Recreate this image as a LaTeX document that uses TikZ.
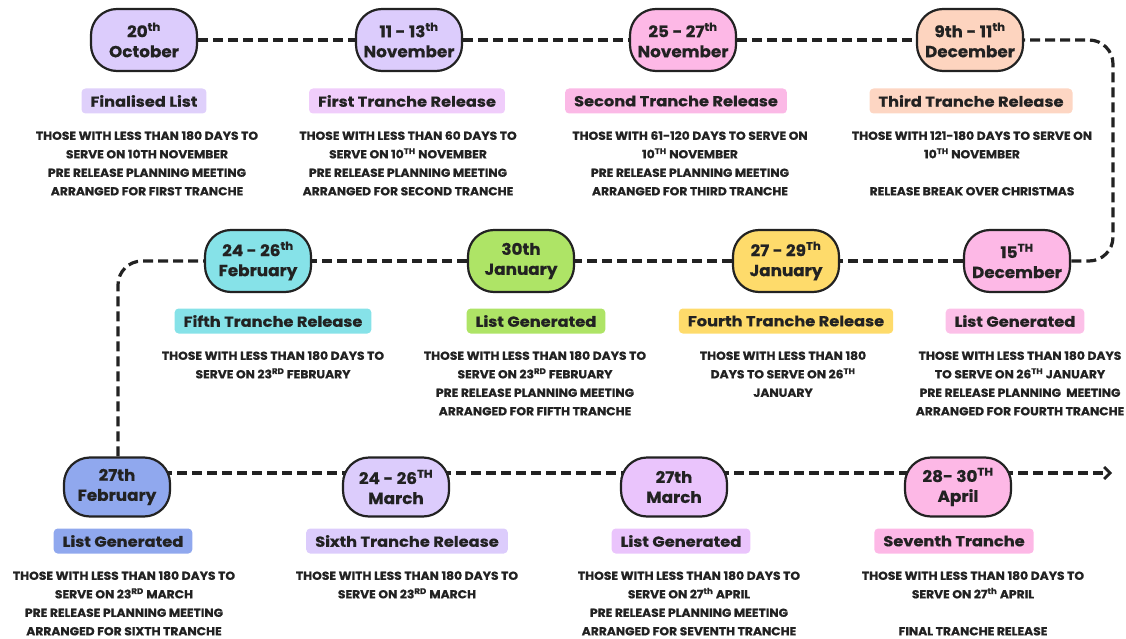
\documentclass[tikz,border=0pt]{standalone}
\usepackage{fontspec}
\setmainfont{Poppins}[FakeStretch=1.06, FakeBold=0.9]
\newfontfamily\headfont{Poppins}[FakeStretch=1.12, FakeBold=0.5]
\newfontfamily\datefont{Poppins}[FakeStretch=1.05, FakeBold=0.5]
\usetikzlibrary{arrows.meta,backgrounds}
\definecolor{ink}{HTML}{222222}
\definecolor{lav}{HTML}{DCCCFC}
\definecolor{pinkA}{HTML}{FDB8E6}
\definecolor{peach}{HTML}{FDD4BF}
\definecolor{yel}{HTML}{FEDB6B}
\definecolor{grn}{HTML}{AEE466}
\definecolor{cyan2}{HTML}{86E2E8}
\definecolor{blu}{HTML}{90A8EE}
\definecolor{purp}{HTML}{EAC4FC}
\definecolor{tagA}{HTML}{DFD0FB}
\definecolor{tagB}{HTML}{F0CDFB}
\definecolor{tagC}{HTML}{FBB9E6}
\definecolor{tagD}{HTML}{FDD6C3}
\definecolor{tagE}{HTML}{FCC0E8}
\tikzset{
  pill/.style={draw=ink, line width=2.2pt, rounded corners=26pt, minimum width=106pt,
    minimum height=62pt, align=center, inner sep=0pt, text=ink,
    font=\datefont\fontsize{16}{20}\selectfont\bfseries},
  tag/.style={rounded corners=4pt, minimum height=25pt, inner xsep=9pt, inner ysep=0pt,
    text=ink, font=\headfont\fontsize{14.5}{16}\selectfont\bfseries},
  body/.style={align=center, anchor=north, inner sep=0pt, text=ink,
    font=\fontsize{11.6}{18.5}\selectfont\bfseries},
  conn/.style={draw=ink, line width=3.2pt, dash pattern=on 10pt off 5pt},
}
\newcommand{\sps}[1]{\textsuperscript{#1}}
\begin{document}
\begin{tikzpicture}[x=1pt,y=-1pt]
\useasboundingbox (0,0) rectangle (1126,639);
% top row
\node[pill, fill=lav]   (p1) at (144,40) {20\sps{th}\\October};
\node[pill, fill=lav]   (p2) at (409,40) {11 - 13\sps{th}\\November};
\node[pill, fill=pinkA] (p3) at (683,40) {25 - 27\sps{th}\\November};
\node[pill, fill=peach] (p4) at (970,40) {9th - 11\sps{th}\\December};
% middle row
\node[pill, fill=pinkA] (m1) at (1017,261) {15\sps{TH}\\December};
\node[pill, fill=yel]   (m2) at (786,261) {27 - 29\sps{Th}\\January};
\node[pill, fill=grn]   (m3) at (521,261) {30th\\January};
\node[pill, fill=cyan2] (m4) at (258,261) {24 - 26\sps{th}\\February};
% bottom row
\node[pill, fill=blu, minimum height=59pt]  (b1) at (117,487) {27th\\February};
\node[pill, fill=lav, minimum height=59pt]  (b2) at (396,487) {24 - 26\sps{TH}\\March};
\node[pill, fill=purp, minimum height=59pt] (b3) at (674,487) {27th\\March};
\node[pill, fill=pinkA, minimum height=59pt](b4) at (958,487) {28- 30\sps{TH}\\April};
\coordinate (rc) at (1113,0);
\coordinate (lc) at (118,0);
\coordinate (tip) at (1112,473);
\begin{scope}[on background layer]
\draw[conn] (p1) -- (p2);
\draw[conn] (p2) -- (p3);
\draw[conn] (p3) -- (p4);
\draw[conn, rounded corners=24pt] (p4.center) -| (rc |- m1.center) -- (m1.center);
\draw[conn] (m1) -- (m2);
\draw[conn] (m2) -- (m3);
\draw[conn] (m3) -- (m4);
\draw[conn, rounded corners=24pt] (m4.center) -| (lc |- b1.center);
\draw[conn] ([yshift=14pt]b1.center) -- ([yshift=14pt]b2.center);
\draw[conn] ([yshift=14pt]b2.center) -- ([yshift=14pt]b3.center);
\draw[conn] ([yshift=14pt]b3.center) -- ([yshift=14pt]b4.center);
\draw[conn, -{Straight Barb[length=6pt,width=12pt,line width=2.8pt]}] ([yshift=14pt]b4.center) -- (tip);
\end{scope}
% tags
\node[tag, fill=tagA]  (t1) at (144,101) {Finalised List};
\node[tag, fill=tagB]  (t2) at (407,101) {First Tranche Release};
\node[tag, fill=tagC]  (t3) at (676,101) {Second Tranche Release};
\node[tag, fill=tagD]  (t4) at (971,101) {Third Tranche Release};
\node[tag, fill=tagE]  (t5) at (1015,321) {List Generated};
\node[tag, fill=yel]   (t6) at (786,321) {Fourth Tranche Release};
\node[tag, fill=grn]   (t7) at (536,321) {List Generated};
\node[tag, fill=cyan2] (t8) at (273,321) {Fifth Tranche Release};
\node[tag, fill=blu]   (t9) at (123,541) {List Generated};
\node[tag, fill=lav]   (t10) at (407,541) {Sixth Tranche Release};
\node[tag, fill=purp]  (t11) at (681,541) {List Generated};
\node[tag, fill=pinkA] (t12) at (954,541) {Seventh Tranche};
% body texts
\node[body] (d1) at (147,131) {THOSE WITH LESS THAN 180 DAYS TO\\SERVE ON 10TH NOVEMBER\\PRE RELEASE PLANNING MEETING\\ARRANGED FOR FIRST TRANCHE};
\node[body] (d2) at (408,131) {THOSE WITH LESS THAN 60 DAYS TO\\SERVE ON 10\sps{TH} NOVEMBER\\PRE RELEASE PLANNING MEETING\\ARRANGED FOR SECOND TRANCHE};
\node[body] (d3) at (690,131) {THOSE WITH 61-120 DAYS TO SERVE ON\\10\sps{TH} NOVEMBER\\PRE RELEASE PLANNING MEETING\\ARRANGED FOR THIRD TRANCHE};
\node[body] (d4) at (972,131) {THOSE WITH 121-180 DAYS TO SERVE ON\\10\sps{TH} NOVEMBER\\[18.5pt]RELEASE BREAK OVER CHRISTMAS};
\node[body] (d5) at (1020,351) {THOSE WITH LESS THAN 180 DAYS\\TO SERVE ON 26\sps{TH} JANUARY\\PRE RELEASE PLANNING\ \ MEETING\\ARRANGED FOR FOURTH TRANCHE};
\node[body] (d6) at (783,351) {THOSE WITH LESS THAN 180\\DAYS TO SERVE ON 26\sps{TH}\\JANUARY};
\node[body] (d7) at (535,351) {THOSE WITH LESS THAN 180 DAYS TO\\SERVE ON 23\sps{RD} FEBRUARY\\PRE RELEASE PLANNING MEETING\\ARRANGED FOR FIFTH TRANCHE};
\node[body] (d8) at (273,351) {THOSE WITH LESS THAN 180 DAYS TO\\SERVE ON 23\sps{RD} FEBRUARY};
\node[body] (d9) at (124,571) {THOSE WITH LESS THAN 180 DAYS TO\\SERVE ON 23\sps{RD} MARCH\\PRE RELEASE PLANNING MEETING\\ARRANGED FOR SIXTH TRANCHE};
\node[body] (d10) at (407,571) {THOSE WITH LESS THAN 180 DAYS TO\\SERVE ON 23\sps{RD} MARCH};
\node[body] (d11) at (689,571) {THOSE WITH LESS THAN 180 DAYS TO\\SERVE ON 27\sps{th} APRIL\\PRE RELEASE PLANNING MEETING\\ARRANGED FOR SEVENTH TRANCHE};
\node[body] (d12) at (973,571) {THOSE WITH LESS THAN 180 DAYS TO\\SERVE ON 27\sps{th} APRIL\\[18.5pt]FINAL TRANCHE RELEASE};
\end{tikzpicture}
\end{document}
